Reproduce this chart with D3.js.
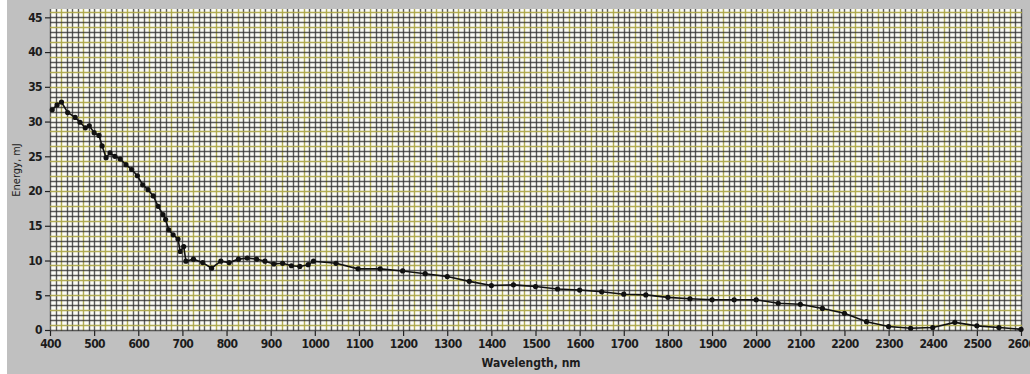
<!DOCTYPE html>
<html>
<head>
<meta charset="utf-8">
<script src="https://cdn.jsdelivr.net/npm/d3@7"></script>
<style>
  html, body { margin: 0; padding: 0; background: #ffffff; }
  svg { display: block; }
  .tick text { font-family: "Liberation Sans Narrow", "DejaVu Sans Condensed", sans-serif; }
</style>
</head>
<body>
<svg id="chart" width="1030" height="374"></svg>
<script>
// Measured output energy versus wavelength
const wavelength = [405, 416, 426, 440, 457, 468, 480, 489, 500, 511, 518, 527, 536, 547, 559, 572, 585,
  598, 610, 622, 634, 645, 656, 662, 669, 679, 690, 695, 703, 708, 725, 746, 766, 787, 806, 827, 847,
  868, 887, 907, 927, 947, 966, 985, 997, 1048, 1098, 1148, 1199, 1250, 1300, 1350, 1400, 1450, 1500,
  1550, 1600, 1650, 1700, 1750, 1800, 1850, 1900, 1950, 2000, 2050, 2100, 2150, 2200, 2250, 2300, 2350,
  2400, 2450, 2500, 2550, 2600];
const energy = [31.7, 32.4, 32.8, 31.3, 30.6, 29.9, 29.1, 29.4, 28.4, 28.0, 26.5, 24.8, 25.5, 25.0, 24.6,
  23.8, 23.1, 22.2, 20.9, 20.2, 19.3, 17.8, 16.6, 15.9, 14.4, 13.7, 13.1, 11.3, 12.0, 9.9, 10.2, 9.7,
  8.9, 9.9, 9.7, 10.2, 10.35, 10.2, 9.9, 9.5, 9.6, 9.25, 9.15, 9.4, 9.9, 9.6, 8.8, 8.8, 8.5, 8.1, 7.7,
  7.0, 6.4, 6.5, 6.25, 5.9, 5.75, 5.5, 5.15, 5.05, 4.7, 4.5, 4.35, 4.35, 4.35, 3.85, 3.7, 3.1, 2.4, 1.2,
  0.5, 0.25, 0.35, 1.1, 0.6, 0.35, 0.1];

// Axis ticks
const xTicks = d3.range(400, 2601, 100);
const yTicks = [0, 5, 10, 15, 20, 25, 30, 35, 40, 45];

const svg = d3.select("#chart");
const W = 1030, H = 374;
const plot = { left: 50, right: 1022, top: 9, bottom: 331 };

// Panel background
svg.append("rect").attr("x", 7).attr("y", 0).attr("width", W - 7).attr("height", H)
  .attr("fill", "#c0c0c0");

const x = d3.scaleLinear().domain([400, 2600]).range([plot.left, plot.right - 1]);
const y = d3.scaleLinear().domain([0, 46.2]).range([plot.bottom - 1, plot.top]);

// Plot area
svg.append("rect")
  .attr("x", plot.left).attr("y", plot.top)
  .attr("width", plot.right - plot.left).attr("height", plot.bottom - plot.top)
  .attr("fill", "#fcfcf6");

// Fine grid, snapped to whole pixels so the cells stay crisp
const snap = v => Math.round(v) + 0.5;
const dark = "#333333", olive = "#aea84a";
const grid = svg.append("g");
const vLines = d3.range(400, 2601, 12.5);
grid.selectAll("line.v").data(vLines).join("line")
  .attr("class", "v")
  .attr("x1", d => snap(x(d))).attr("x2", d => snap(x(d)))
  .attr("y1", plot.top).attr("y2", plot.bottom)
  .attr("stroke", (d, i) => (i % 4 === 2 ? olive : dark))
  .attr("stroke-width", 1.4)
  .attr("stroke-opacity", (d, i) => (i % 4 === 2 ? 0.95 : 0.8));

const hLines = d3.range(0, 46.01, 5 / 7);
grid.selectAll("line.h").data(hLines).join("line")
  .attr("class", "h")
  .attr("x1", plot.left).attr("x2", plot.right)
  .attr("y1", d => snap(y(d))).attr("y2", d => snap(y(d)))
  .attr("stroke", (d, i) => (i % 3 === 1 ? olive : dark))
  .attr("stroke-width", 1.3)
  .attr("stroke-opacity", (d, i) => (i % 3 === 1 ? 0.95 : 0.8));

// Axes
const fmt = d3.format("d");
const xAxis = svg.append("g")
  .attr("transform", `translate(0,${plot.bottom})`)
  .call(d3.axisBottom(x).tickValues(xTicks).tickFormat(fmt).tickSize(5).tickSizeOuter(0).tickPadding(3));
xAxis.select(".domain").remove();
xAxis.selectAll(".tick line").attr("stroke", "#222").attr("stroke-width", 1.2);
xAxis.selectAll(".tick text").attr("fill", "#1c1c1c").attr("font-size", 12)
  .attr("font-weight", "bold").attr("letter-spacing", "-0.6");

const yAxis = svg.append("g")
  .attr("transform", `translate(${plot.left},0)`)
  .call(d3.axisLeft(y).tickValues(yTicks).tickFormat(fmt).tickSize(5).tickSizeOuter(0).tickPadding(3));
yAxis.select(".domain").remove();
yAxis.selectAll(".tick line").attr("stroke", "#222").attr("stroke-width", 1.2);
yAxis.selectAll(".tick text").attr("fill", "#1c1c1c").attr("font-size", 12)
  .attr("font-weight", "bold").attr("letter-spacing", "-0.6");

// Axis titles
svg.append("text")
  .attr("x", 531).attr("y", 367)
  .attr("text-anchor", "middle")
  .attr("font-family", "'Liberation Sans Narrow', 'DejaVu Sans Condensed', sans-serif")
  .attr("font-size", 12).attr("font-weight", "bold").attr("fill", "#1c1c1c")
  .text("Wavelength, nm");

svg.append("text")
  .attr("transform", "translate(20,170) rotate(-90)")
  .attr("text-anchor", "middle")
  .attr("font-family", "'Liberation Sans Narrow', 'DejaVu Sans Condensed', sans-serif")
  .attr("font-size", 11).attr("fill", "#1c1c1c")
  .text("Energy, mJ");

// Series
const data = wavelength.map((w, i) => ({ w, e: energy[i] }));
const line = d3.line().x(d => x(d.w)).y(d => y(d.e));

svg.append("path").datum(data)
  .attr("d", line)
  .attr("fill", "none").attr("stroke", "#111").attr("stroke-width", 1.6);

svg.selectAll("circle.pt").data(data).join("circle")
  .attr("class", "pt")
  .attr("cx", d => x(d.w)).attr("cy", d => y(d.e))
  .attr("r", 2.6).attr("fill", "#111");
</script>
</body>
</html>
